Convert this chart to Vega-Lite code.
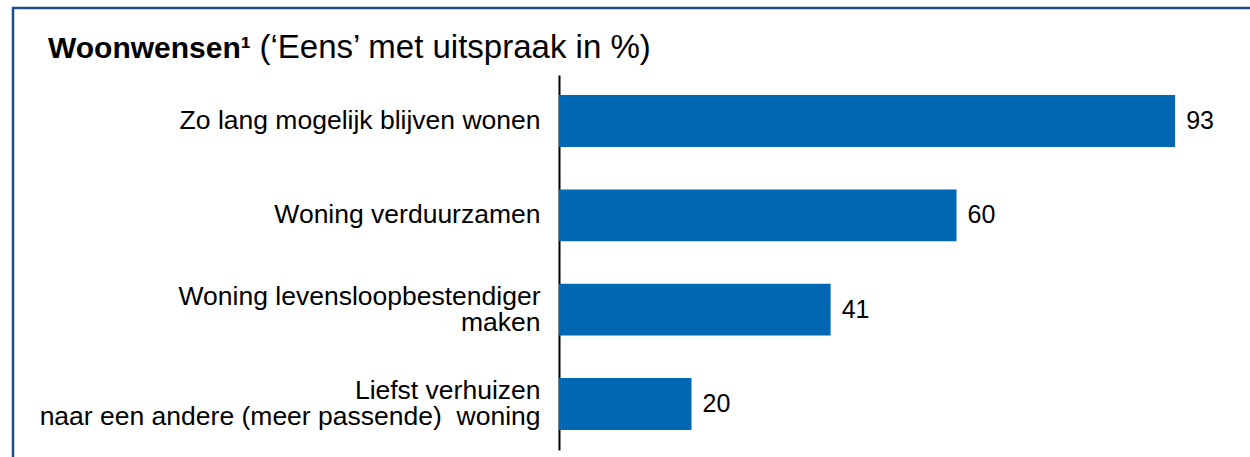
{
  "$schema": "https://vega.github.io/schema/vega-lite/v6.json",
  "width": 1250,
  "height": 470,
  "autosize": {"type": "none"},
  "padding": {"left": 13, "top": 8, "right": 0, "bottom": 0},
  "background": "white",
  "title": {
    "text": "Woonwensen¹",
    "anchor": "start",
    "orient": "top",
    "frame": "group",
    "offset": -80,
    "dx": 35,
    "baseline": "alphabetic",
    "font": "Liberation Sans",
    "fontSize": 30,
    "fontWeight": "bold",
    "color": "black"
  },
  "data": {
    "values": [
      {"label": "Zo lang mogelijk blijven wonen", "value": 93},
      {"label": "Woning verduurzamen", "value": 60},
      {"label": "Woning levensloopbestendiger \nmaken", "value": 41},
      {"label": "Liefst verhuizen \nnaar een andere (meer passende)\u00a0 woning", "value": 20}
    ]
  },
  "config": {
    "view": {"stroke": "#1F4E87", "strokeWidth": 2.5}
  },
  "encoding": {
    "y": {
      "field": "label",
      "type": "nominal",
      "sort": null,
      "scale": {"type": "band", "range": [67, 442], "paddingInner": 0.449, "paddingOuter": 0.213},
      "axis": {
        "orient": "left",
        "offset": -546,
        "title": null,
        "ticks": false,
        "tickSize": 0,
        "grid": false,
        "domainColor": "black",
        "domainWidth": 2,
        "labelFont": "Liberation Sans",
        "labelFontSize": 26.5,
        "labelColor": "black",
        "labelPadding": 19,
        "labelLineHeight": 26.5,
        "labelLimit": 0,
        "labelBaseline": "middle",
        "labelOffset": {"condition": {"test": "indexof(datum.value, '\\n') >= 0", "value": -13}, "value": 0},
        "labelExpr": "split(datum.label, '\\n')"
      }
    },
    "x": {
      "field": "value",
      "type": "quantitative",
      "scale": {"domain": [0, 100], "range": [546, 1208.5], "nice": false},
      "axis": {
        "orient": "top",
        "domain": false,
        "labels": false,
        "ticks": false,
        "grid": false,
        "title": "(‘Eens’ met uitspraak in %)",
        "titleFont": "Liberation Sans",
        "titleFontSize": 33,
        "titleFontWeight": "normal",
        "titleColor": "black",
        "titleAnchor": "start",
        "titleAlign": "left",
        "titleBaseline": "alphabetic",
        "titleX": 246,
        "titleY": 49
      }
    }
  },
  "layer": [
    {"mark": {"type": "bar", "color": "#0067B2"}},
    {
      "mark": {"type": "text", "align": "left", "baseline": "middle", "dx": 11, "font": "Liberation Sans", "fontSize": 25, "color": "black"},
      "encoding": {"text": {"field": "value", "type": "quantitative"}}
    }
  ]
}
